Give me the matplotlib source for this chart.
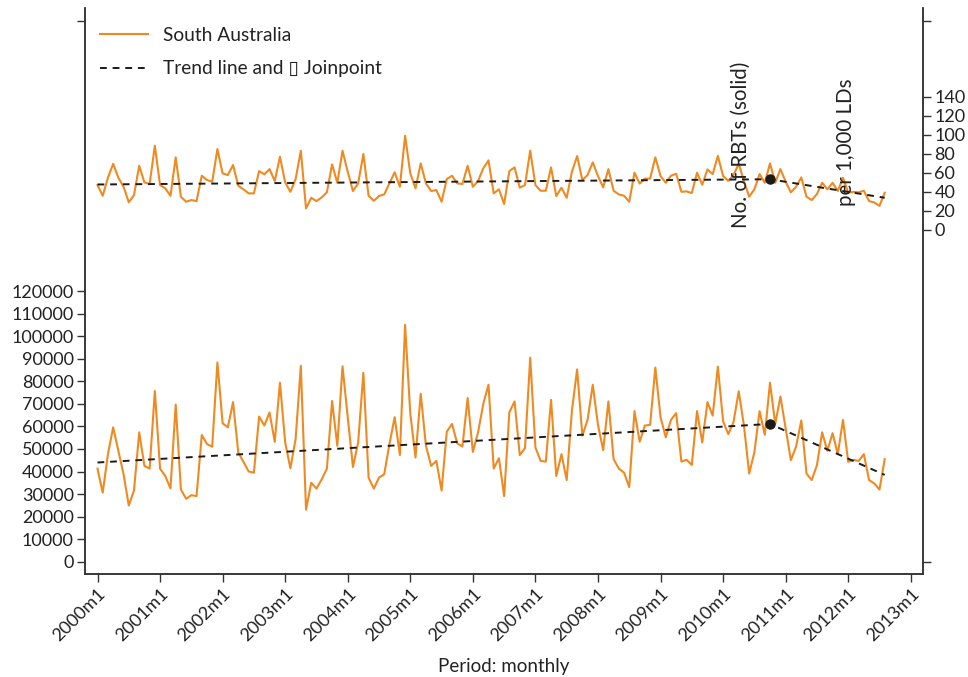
import matplotlib
matplotlib.use("Agg")
import matplotlib.pyplot as plt
from matplotlib.lines import Line2D

plt.rcParams['font.family'] = ['Lato', 'DejaVu Sans']

# monthly counts of RBTs, South Australia, 2000m1 .. 2012m8
rbt_count = [41300, 30600, 47700, 59600, 49200, 38800, 24900, 31600, 57400, 42500, 41300, 75700,
             41300, 38000, 32500, 69700, 32000, 27900, 29500, 29100, 56200, 52200, 51000, 88400,
             61400, 59600, 70800, 48500, 44300, 40000, 39500, 64400, 60400, 66200, 53200, 79400,
             52900, 41400, 54400, 86900, 23100, 35000, 32400, 36500, 41300, 71300, 51400, 86700,
             64100, 42000, 52900, 83800, 37300, 32400, 37300, 38800, 52200, 64100, 47300, 105100,
             65600, 46200, 74500, 51400, 42500, 44700, 31600, 57700, 61100, 52500, 51100, 72600,
             48700, 57400, 70000, 78500, 41300, 45900, 29100, 66300, 71100, 47300, 50400, 90500,
             50700, 44700, 44400, 71800, 38000, 47700, 36200, 67000, 85300, 55900, 62900, 78500,
             60700, 49500, 71100, 45500, 41300, 39500, 33100, 66800, 53200, 60400, 60700, 86100,
             64100, 55200, 62900, 65900, 44400, 45200, 42900, 66800, 52900, 70800, 64800, 86500,
             62300, 56600, 61900, 75600, 60400, 39100, 48500, 66800, 56300, 79400, 61100, 73300,
             59200, 45000, 51000, 62600, 39100, 36200, 42800, 57400, 49200, 57000, 47700, 62900,
             44300, 45200, 44700, 47700, 36200, 34700, 32000, 45500]

# RBTs per 1,000 licensed drivers
rbt_rate = [46.9, 35.6, 54.6, 69.3, 54.6, 45.1, 28.7, 36.4, 67.2, 49.7, 48.0, 88.3,
            46.9, 43.4, 35.6, 76.1, 34.6, 29.3, 31.1, 30.0, 56.7, 52.2, 50.4, 84.8,
            59.2, 57.4, 68.0, 46.2, 42.4, 38.1, 38.1, 61.6, 58.2, 63.7, 51.1, 76.7,
            49.7, 39.8, 53.2, 83.0, 22.3, 33.5, 30.0, 33.9, 39.2, 68.7, 49.3, 83.0,
            60.9, 40.6, 48.7, 79.6, 35.6, 30.3, 35.3, 37.1, 48.7, 60.3, 45.1, 98.8,
            59.2, 43.4, 69.7, 48.7, 40.6, 41.6, 29.3, 53.2, 56.7, 48.7, 48.0, 67.2,
            45.1, 51.1, 64.5, 72.9, 38.1, 42.4, 26.9, 61.6, 65.5, 44.1, 46.9, 83.0,
            46.9, 40.9, 40.9, 65.5, 35.3, 44.1, 33.5, 60.9, 77.4, 52.2, 57.4, 70.8,
            56.4, 44.5, 63.7, 40.9, 37.1, 35.6, 29.3, 59.9, 48.5, 53.7, 53.7, 76.1,
            56.4, 49.3, 56.7, 58.8, 39.8, 40.2, 38.5, 59.9, 47.2, 63.4, 58.4, 77.6,
            56.5, 51.3, 57.4, 69.4, 51.1, 34.6, 42.4, 58.5, 49.3, 69.7, 49.3, 63.7,
            50.4, 39.2, 45.1, 55.0, 34.6, 31.1, 37.4, 49.3, 42.4, 49.3, 40.6, 54.6,
            38.8, 39.8, 39.2, 40.9, 30.0, 28.5, 25.0, 38.8]

months = list(range(len(rbt_count)))

# joinpoint trend (start, joinpoint 2010m10, end)
trend_months = [0, 129, 151]
trend_count = [44000, 61100, 38500]
trend_rate = [47.5, 53.0, 33.5]
joinpoint = 129

year_ticks = [0, 12, 24, 36, 48, 60, 72, 84, 96, 108, 120, 132, 144, 156]
year_labels = ["2000m1", "2001m1", "2002m1", "2003m1", "2004m1", "2005m1", "2006m1",
               "2007m1", "2008m1", "2009m1", "2010m1", "2011m1", "2012m1", "2013m1"]

left_ticks = [0, 10000, 20000, 30000, 40000, 50000, 60000, 70000, 80000, 90000,
              100000, 110000, 120000, 240000]
right_ticks = [-350, 0, 20, 40, 60, 80, 100, 120, 140, 220]

orange = '#EF8A22'
txt = '#222222'
fs = 13
dash = (0, (3.5, 3))

fig = plt.figure(figsize=(9.68, 6.77), dpi=100)
ax = fig.add_axes([0.0878, 0.1517, 0.866, 0.836])
ax2 = ax.twinx()

ax.plot(months, rbt_count, color=orange, lw=1.5, zorder=2)
ax.plot(trend_months, trend_count, color='#1a1a1a', lw=1.4, ls=dash, zorder=3)
ax.plot([joinpoint], [trend_count[1]], 'o', color='#1a1a1a', ms=6.5, zorder=4)

ax2.plot(months, rbt_rate, color=orange, lw=1.5, zorder=2)
ax2.plot(trend_months, trend_rate, color='#1a1a1a', lw=1.4, ls=dash, zorder=3)
ax2.plot([joinpoint], [trend_rate[1]], 'o', color='#1a1a1a', ms=6.5, zorder=4)

ax.set_xlim(-2.4, 158.4)
ax.set_ylim(-5600, 245500)
ax2.set_ylim(-363, 233)

ax.set_xticks(year_ticks)
ax.set_xticklabels(year_labels, rotation=45, ha='right', rotation_mode='anchor')
ax.set_yticks(left_ticks)
ax.set_yticklabels([str(v) for v in left_ticks[:-1]] + [''])
ax2.set_yticks(right_ticks)
ax2.set_yticklabels([''] + [str(v) for v in right_ticks[1:-1]] + [''])

for a in (ax, ax2):
    a.spines['top'].set_visible(False)
    for s in ('left', 'right', 'bottom'):
        a.spines[s].set_color('#333333')
        a.spines[s].set_linewidth(1.1)
    a.tick_params(colors='#333333', labelcolor=txt, labelsize=fs, length=6, width=1.0, pad=2)

ax.set_xlabel('Period: monthly', fontsize=fs + 0.5, color=txt, labelpad=10)

# axis titles drawn inside the plot, as in the original
fig.text(741 / 968, 1 - 228 / 677, 'No. of RBTs (solid)', rotation=90, rotation_mode='anchor',
         ha='left', va='center', fontsize=fs + 1.8, color=txt)
fig.text(846 / 968, 1 - 206 / 677, 'per 1,000 LDs', rotation=90, rotation_mode='anchor',
         ha='left', va='center', fontsize=fs + 1.8, color=txt)

handles = [Line2D([], [], color=orange, lw=1.5),
           Line2D([], [], color='#1a1a1a', lw=1.4, ls=dash)]
ax2.legend(handles, ['South Australia', 'Trend line and \u25af Joinpoint'],
           loc='upper left', bbox_to_anchor=(100 / 968, 1 - 27 / 677),
           bbox_transform=fig.transFigure, frameon=False, fontsize=fs + 0.8,
           handlelength=2.5, handletextpad=0.8, labelspacing=0.85,
           borderpad=0, borderaxespad=0, labelcolor=txt)

fig.savefig('out.png', dpi=100)
